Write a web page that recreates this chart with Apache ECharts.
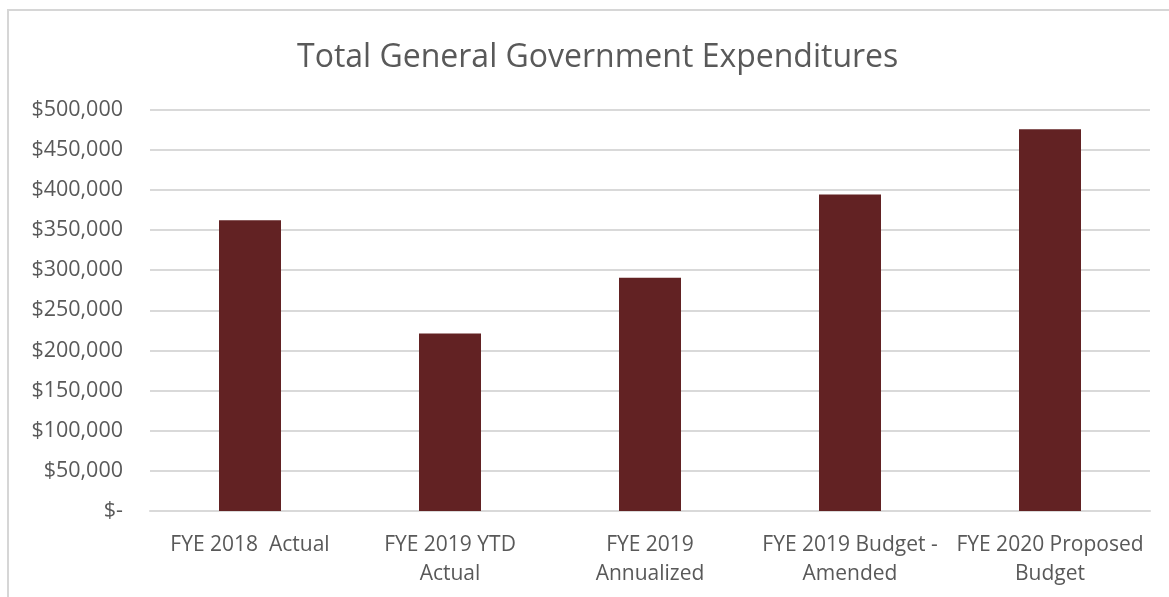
<!DOCTYPE html>
<html>
<head>
<meta charset="utf-8">
<script src="https://cdn.jsdelivr.net/npm/echarts@6/dist/echarts.min.js"></script>
<style>
  html, body { margin: 0; padding: 0; background: #ffffff; }
  #chart { width: 1169px; height: 597px; }
</style>
</head>
<body>
<div id="chart"></div>
<script>
// Budget categories and totals (USD)
const categories = [
  'FYE 2018  Actual',
  'FYE 2019 YTD\nActual',
  'FYE 2019\nAnnualized',
  'FYE 2019 Budget -\nAmended',
  'FYE 2020 Proposed\nBudget'
];
const expenditures = [362000, 221000, 290500, 394000, 475500];
const yTicks = { min: 0, max: 500000, interval: 50000 };

const textGray = '#595959';
const fontFamily = '"Open Sans", Lato, sans-serif';

function money(v) {
  if (v === 0) return '$-';
  return '$' + v.toLocaleString('en-US');
}

const chart = echarts.init(document.getElementById('chart'), null, { renderer: 'canvas' });
chart.setOption({
  animation: false,
  backgroundColor: '#ffffff',
  title: {
    text: 'Total General Government Expenditures',
    left: 292,
    top: 37,
    textStyle: { color: textGray, fontFamily: fontFamily, fontSize: 32, fontWeight: 'normal' }
  },
  graphic: [{
    type: 'rect',
    shape: { x: 8, y: 10, width: 1200, height: 700 },
    style: { fill: 'none', stroke: '#d6d6d6', lineWidth: 2 },
    silent: true,
    z: -1
  }],
  grid: { left: 150, right: 19, top: 109.5, bottom: 86, containLabel: false },
  xAxis: {
    type: 'category',
    data: categories,
    axisTick: { show: false },
    axisLine: { show: true, lineStyle: { color: '#d9d9d9', width: 2 } },
    axisLabel: {
      color: textGray, fontFamily: fontFamily, fontSize: 21,
      lineHeight: 29, margin: 20, interval: 0
    }
  },
  yAxis: {
    type: 'value',
    min: yTicks.min,
    max: yTicks.max,
    interval: yTicks.interval,
    axisLine: { show: false },
    axisTick: { show: false },
    splitLine: { lineStyle: { color: '#d9d9d9', width: 2 } },
    axisLabel: {
      color: textGray, fontFamily: fontFamily, fontSize: 21.5,
      margin: 27, formatter: money
    }
  },
  series: [{
    type: 'bar',
    data: expenditures,
    barWidth: 62,
    itemStyle: { color: '#622223' }
  }]
});
</script>
</body>
</html>
